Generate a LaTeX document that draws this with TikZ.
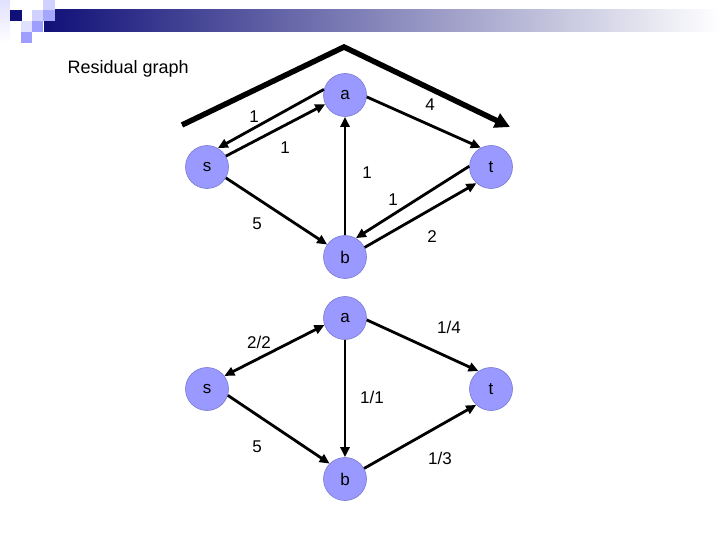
\documentclass[tikz,border=0pt]{standalone}
\usepackage{fontspec}
\setmainfont{Liberation Sans}
\usetikzlibrary{positioning,arrows.meta}

\definecolor{vfill}{RGB}{153,153,255}
\definecolor{vline}{RGB}{120,120,210}
\definecolor{navy}{RGB}{16,16,120}

\begin{document}
\begin{tikzpicture}[x=1pt, y=-1pt, every node/.style={font=\fontsize{17}{19}\selectfont},
    vert/.style={circle, draw=vline, line width=0.6pt, fill=vfill, minimum size=43pt, inner sep=0pt},
    edge/.style={line width=2.8pt, -{Triangle[length=10pt, width=9pt]}}]
    \useasboundingbox (0,0) rectangle (720,540);
    % slide decoration
    \shade[left color=navy, right color=white] (44,10) rectangle (720,32);
    \shade[top color=blue!12, bottom color=white] (0,0) rectangle (10,43);
    \fill[navy] (10,10) rectangle (22,21);
    \fill[blue!18] (32,10) rectangle (43,21);
    \fill[blue!18] (43,0) rectangle (55,10);
    \fill[blue!35] (43,10) rectangle (55,21);
    \fill[blue!12] (21,21) rectangle (32,32);
    \fill[blue!38] (32,21) rectangle (43,32);
    \fill[blue!38] (21,32) rectangle (32,43);
    \node[anchor=west, font=\fontsize{18}{20}\selectfont] (title) at (64,69) {Residual graph};

    % residual graph
    \node[vert] (a) at (345,95) {a};
    \node[vert, on grid, below left=72pt and 138pt of a] (s) {s};
    \node[vert, on grid, below right=72pt and 146pt of a] (t) {t};
    \node[vert, on grid, below=162pt of a] (b) {b};
    \draw[edge] (a.165) -- (s.60);
    \draw[edge] (s.30) -- (a.205);
    \draw[edge] (a.-5) -- (t.118);
    \draw[edge] (b) -- (a);
    \draw[edge] (s.-30) -- (b.145);
    \draw[edge] (t.178) -- (b.60);
    \draw[edge] (b.26) -- (t.228);
    \node (r1) at (254,117) {1};
    \node (r2) at (285,148) {1};
    \node (r3) at (430,105) {4};
    \node (r4) at (367,173) {1};
    \node (r5) at (393,200) {1};
    \node (r6) at (257,224) {5};
    \node (r7) at (432,237) {2};
    % augmenting path
    \coordinate (p0) at (182,125);
    \coordinate (p1) at (344,47);
    \coordinate (p2) at (510,127);
    \draw[line width=5.5pt, -{Triangle[length=15pt, width=15pt]}] (p0) -- (p1) -- (p2);

    % flow graph
    \node[vert] (a2) at (345,318) {a};
    \node[vert, on grid, below left=71pt and 138pt of a2] (s2) {s};
    \node[vert, on grid, below right=71pt and 146pt of a2] (t2) {t};
    \node[vert, on grid, below=161pt of a2] (b2) {b};
    \draw[edge, {Triangle[length=10pt, width=9pt]}-{Triangle[length=10pt, width=9pt]}] (s2.37) -- (a2.199);
    \draw[edge] (a2.-5) -- (t2.125);
    \draw[edge] (a2) -- (b2);
    \draw[edge] (s2.-17) -- (b2.135);
    \draw[edge] (b2.29) -- (t2.227);
    \node (f1) at (259,342) {2/2};
    \node (f2) at (449,327) {1/4};
    \node (f3) at (372,397) {1/1};
    \node (f4) at (257,447) {5};
    \node (f5) at (440,458) {1/3};
\end{tikzpicture}
\end{document}
